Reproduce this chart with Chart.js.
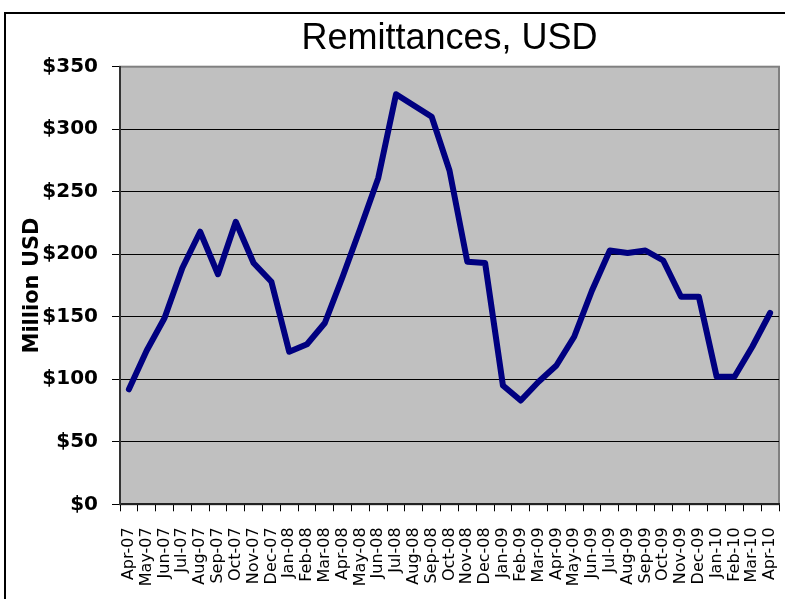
<!DOCTYPE html>
<html>
<head>
<meta charset="utf-8">
<title>Remittances, USD</title>
<script src="https://cdn.jsdelivr.net/npm/chart.js@4/dist/chart.umd.min.js"></script>
<style>
    html, body { margin: 0; padding: 0; background: #fff; overflow: hidden; }
    #frame { position: absolute; left: 4px; top: 12px; width: 800px; height: 600px; border-left: 2px solid #000; border-top: 2px solid #000; }
    #remitChart { position: absolute; left: 0; top: 0; }
</style>
</head>
<body>
<div id="frame"></div>
<canvas id="remitChart" width="785" height="599"></canvas>
<script>
const months = [
    "Apr-07", "May-07", "Jun-07", "Jul-07", "Aug-07", "Sep-07", "Oct-07", "Nov-07", "Dec-07",
    "Jan-08", "Feb-08", "Mar-08", "Apr-08", "May-08", "Jun-08", "Jul-08", "Aug-08", "Sep-08",
    "Oct-08", "Nov-08", "Dec-08", "Jan-09", "Feb-09", "Mar-09", "Apr-09", "May-09", "Jun-09",
    "Jul-09", "Aug-09", "Sep-09", "Oct-09", "Nov-09", "Dec-09", "Jan-10", "Feb-10", "Mar-10", "Apr-10"
];

const remittances = [
    92, 123, 149, 189, 218, 184, 226, 193, 178,
    122, 128, 145, 182, 221, 261, 328, 319, 310,
    267, 194, 193, 95, 83, 98, 111, 134, 171,
    203, 201, 203, 195, 166, 166, 102, 102, 126, 153
];

const yMin = 0;
const yMax = 350;
const yStep = 50;

const plotBackground = {
    id: "plotBackground",
    beforeDraw(chart) {
        const { ctx, chartArea: a } = chart;
        ctx.save();
        ctx.fillStyle = "#c0c0c0";
        ctx.fillRect(a.left, a.top, a.right - a.left, a.bottom - a.top);
        ctx.strokeStyle = "#808080";
        ctx.lineWidth = 2;
        ctx.strokeRect(a.left, a.top, a.right - a.left, a.bottom - a.top);
        ctx.restore();
    }
};

function drawChart() {
    const ctx = document.getElementById("remitChart").getContext("2d");
    new Chart(ctx, {
        type: "line",
        data: {
            labels: months,
            datasets: [{
                label: "Remittances",
                data: remittances,
                borderColor: "#000080",
                borderWidth: 6,
                borderCapStyle: "round",
                borderJoinStyle: "round",
                pointRadius: 0,
                tension: 0,
                fill: false
            }]
        },
        options: {
            responsive: false,
            animation: false,
            devicePixelRatio: 1,
            layout: { padding: { left: 0, right: 6, top: 0, bottom: 0 } },
            plugins: {
                legend: { display: false },
                tooltip: { enabled: false },
                title: {
                    display: true,
                    fullSize: false,
                    text: "Remittances, USD",
                    color: "#000",
                    font: { family: "'Liberation Sans', Arial, sans-serif", size: 36, weight: "normal" },
                    padding: { top: 17, bottom: 6.5 }
                }
            },
            scales: {
                x: {
                    offset: true,
                    afterFit(scale) {
                        scale.height = 94.7;
                        scale.paddingLeft = 0;
                        scale.paddingRight = 0;
                    },
                    grid: {
                        offset: true,
                        drawOnChartArea: false,
                        color: "#000",
                        tickLength: 7
                    },
                    border: { display: true, color: "#222", width: 2 },
                    ticks: {
                        autoSkip: false,
                        minRotation: 90,
                        maxRotation: 90,
                        padding: 16,
                        color: "#000",
                        font: { family: "'DejaVu Sans', sans-serif", size: 16 }
                    }
                },
                y: {
                    min: yMin,
                    max: yMax,
                    afterFit(scale) { scale.width = 120; },
                    grid: {
                        color: (c) => c.tick && c.tick.value === yMax ? "#808080" : "#000",
                        tickColor: "#000",
                        lineWidth: 1,
                        tickLength: 8
                    },
                    border: { display: true, color: "#333", width: 2 },
                    ticks: {
                        stepSize: yStep,
                        padding: 14,
                        color: "#000",
                        font: { family: "'DejaVu Sans', sans-serif", size: 20, weight: "bold" },
                        callback: (v) => "$" + v
                    },
                    title: {
                        display: true,
                        text: "Million USD",
                        color: "#000",
                        font: { family: "'DejaVu Sans', sans-serif", size: 21, weight: "bold" },
                        padding: { top: 20, bottom: 0 }
                    }
                }
            }
        },
        plugins: [plotBackground]
    });
}

drawChart();
</script>
</body>
</html>
